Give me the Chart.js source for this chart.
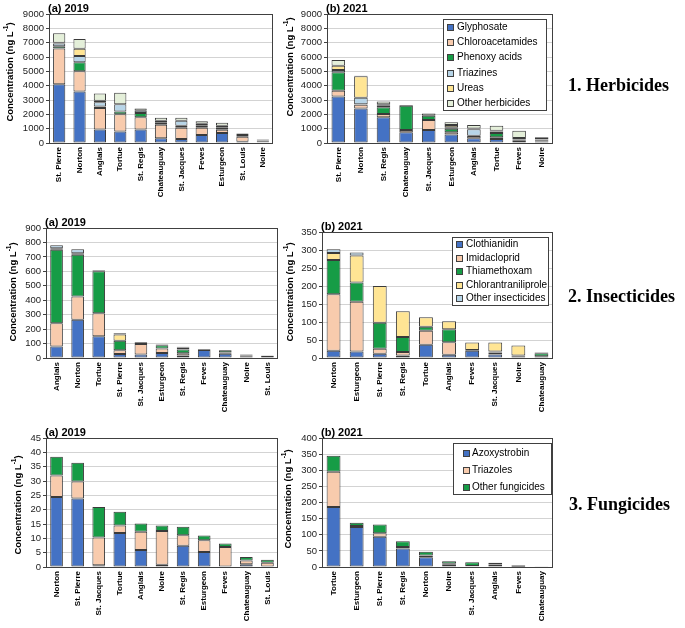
<!DOCTYPE html>
<html><head><meta charset="utf-8">
<script src="https://cdn.jsdelivr.net/npm/chart.js@4.4.1/dist/chart.umd.min.js"></script>
<style>
html,body{margin:0;padding:0;background:#fff;}
#wrap{position:relative;width:685px;height:628px;overflow:hidden;font-family:"Liberation Sans",Arial,sans-serif;}
canvas{position:absolute;left:0;top:0;}
.lg{position:absolute;border:1px solid #404040;background:#fff;box-sizing:border-box;font-size:10px;color:#000;}
.lg .it{position:absolute;white-space:nowrap;line-height:12px;}
.lg .mk{position:absolute;width:7px;height:7px;border:1px solid #404040;box-sizing:border-box;}
.sec{position:absolute;font-family:"Liberation Serif","Times New Roman",serif;font-weight:bold;font-size:18px;white-space:nowrap;line-height:20px;color:#000;}
</style></head>
<body>
<div id="wrap">
<canvas id="c1" width="685" height="628"></canvas>
<canvas id="c2" width="685" height="628"></canvas>
<canvas id="c3" width="685" height="628"></canvas>
<canvas id="c4" width="685" height="628"></canvas>
<canvas id="c5" width="685" height="628"></canvas>
<canvas id="c6" width="685" height="628"></canvas>
<div class="sec" style="left:568px;top:75px;">1. Herbicides</div>
<div class="sec" style="left:568px;top:286px;">2. Insecticides</div>
<div class="sec" style="left:569px;top:494px;">3. Fungicides</div>
</div>
<script>
// ---------- DATA ----------
const herbNames = ['Glyphosate','Chloroacetamides','Phenoxy acids','Triazines','Ureas','Other herbicides'];
const insNames = ['Clothianidin','Imidacloprid','Thiamethoxam','Chlorantraniliprole','Other insecticides'];
const fungNames = ['Azoxystrobin','Triazoles','Other fungicides'];

// Herbicides 2019
const herbCats19 = ['St. Pierre','Norton','Anglais','Tortue','St. Regis','Chateauguay','St. Jacques','Feves','Esturgeon','St. Louis','Noire'];
const glyphosate19 = [4100, 3600, 950, 800, 950, 330, 280, 560, 700, 90, 60];
const chloroacetamides19 = [2500, 1400, 1500, 1200, 850, 950, 790, 510, 230, 350, 60];
const phenoxy19 = [150, 630, 100, 200, 300, 140, 140, 140, 140, 120, 40];
const triazines19 = [200, 440, 300, 500, 150, 140, 350, 140, 140, 60, 20];
const ureas19 = [50, 510, 100, 0, 0, 0, 0, 0, 0, 0, 0];
const otherHerb19 = [650, 680, 500, 800, 150, 200, 210, 160, 210, 50, 60];

// Herbicides 2021
const herbCats21 = ['St. Pierre','Norton','St. Regis','Chateauguay','St. Jacques','Esturgeon','Anglais','Tortue','Feves','Noire'];
const glyphosate21 = [3250, 2400, 1800, 750, 900, 600, 330, 280, 150, 100];
const chloroacetamides21 = [400, 270, 220, 150, 700, 150, 150, 120, 100, 60];
const phenoxy21 = [1280, 30, 470, 1700, 300, 250, 30, 300, 100, 80];
const triazines21 = [160, 450, 110, 0, 0, 100, 450, 100, 0, 20];
const ureas21 = [300, 1500, 100, 0, 0, 150, 50, 50, 0, 0];
const otherHerb21 = [400, 50, 200, 50, 150, 200, 250, 350, 500, 140];

// Insecticides 2019
const insCats19 = ['Anglais','Norton','Tortue','St. Pierre','St. Jacques','Esturgeon','St. Regis','Feves','Chateauguay','Noire','St. Louis'];
const clothianidin19 = [80, 265, 150, 28, 25, 35, 18, 55, 30, 12, 15];
const imidacloprid19 = [160, 160, 160, 25, 72, 30, 15, 0, 8, 5, 0];
const thiamethoxam19 = [510, 290, 290, 67, 8, 23, 25, 5, 15, 8, 3];
const chlorantraniliprole19 = [10, 10, 5, 42, 0, 0, 15, 0, 3, 0, 0];
const otherIns19 = [20, 28, 5, 10, 5, 5, 5, 0, 0, 0, 0];

// Insecticides 2021
const insCats21 = ['Norton','Esturgeon','St. Pierre','St. Regis','Tortue','Anglais','Feves','St. Jacques','Noire','Chateauguay'];
const clothianidin21 = [20, 18, 12, 7, 37, 9, 20, 10, 5, 3];
const imidacloprid21 = [157, 138, 14, 10, 39, 35, 2, 5, 2, 2];
const thiamethoxam21 = [95, 54, 72, 41, 11, 36, 0, 3, 0, 8];
const chlorantraniliprole21 = [20, 75, 102, 72, 26, 22, 21, 25, 28, 2];
const otherIns21 = [10, 8, 0, 0, 0, 0, 0, 0, 0, 0];

// Fungicides 2019
const fungCats19 = ['Norton','St. Pierre','St. Jacques','Tortue','Anglais','Noire','St. Regis','Esturgeon','Feves','Chateauguay','St. Louis'];
const azoxystrobin19 = [24.4, 23.9, 0.6, 11.9, 5.9, 0.8, 7.4, 5.2, 0, 1.0, 0.2];
const triazoles19 = [7.5, 5.9, 9.7, 2.6, 6.4, 11.8, 3.7, 4.1, 7.0, 1.3, 1.3];
const otherFung19 = [6.6, 6.6, 10.6, 4.8, 2.9, 1.9, 2.9, 1.7, 1.2, 1.2, 1.0];

// Fungicides 2021
const fungCats21 = ['Tortue','Esturgeon','St. Pierre','St. Regis','Norton','Noire','St. Jacques','Anglais','Feves','Chateauguay'];
const azoxystrobin21 = [186, 124, 94, 57, 30, 7, 2, 8, 1, 0.5];
const triazoles21 = [109, 3, 11, 5, 6, 3, 1, 1, 4, 0.3];
const otherFung21 = [50, 10, 27, 18, 11, 8, 12, 4, 1, 0.2];

// ---------- STYLE ----------
const FF = '"Liberation Sans", Arial, sans-serif';
const COL = {blue:'#4472c4', peach:'#f8cbad', green:'#169c46', lblue:'#b7d5e8', yellow:'#ffe594', pale:'#e4efd9'};
const herbColors = [COL.blue, COL.peach, COL.green, COL.lblue, COL.yellow, COL.pale];
const insColors = [COL.blue, COL.peach, COL.green, COL.yellow, COL.lblue];
const fungColors = [COL.blue, COL.peach, COL.green];
const XH = 60;

function decoPlugin(title, ytx, yty) {
  return {
    id: 'deco',
    afterDraw(chart) {
      const a = chart.chartArea, ctx = chart.ctx;
      ctx.save();
      ctx.strokeStyle = '#404040';
      ctx.lineWidth = 1;
      const l = Math.round(a.left) + 0.5, t = Math.round(a.top) + 0.5;
      const w = Math.round(a.right) - Math.round(a.left) - 1, h = Math.round(a.bottom) - Math.round(a.top);
      ctx.strokeRect(l, t, w, h);
      ctx.fillStyle = '#000';
      ctx.font = 'bold 11px ' + FF;
      ctx.textAlign = 'left';
      ctx.textBaseline = 'alphabetic';
      ctx.fillText(title, a.left - 1, a.top - 2);
      ctx.translate(ytx, yty);
      ctx.rotate(-Math.PI / 2);
      const main = 'Concentration (ng L', sup = '-1', end = ')';
      const fMain = 'bold 9.5px ' + FF, fSup = 'bold 6.5px ' + FF;
      ctx.font = fMain; const w1 = ctx.measureText(main).width, w3 = ctx.measureText(end).width;
      ctx.font = fSup; const w2 = ctx.measureText(sup).width;
      let x = -(w1 + w2 + w3) / 2;
      ctx.textBaseline = 'middle';
      ctx.font = fMain; ctx.fillText(main, x, 0); x += w1;
      ctx.font = fSup; ctx.fillText(sup, x, -3.5); x += w2;
      ctx.font = fMain; ctx.fillText(end, x, 0);
      ctx.restore();
    }
  };
}

function makePanel(id, p) {
  const datasets = p.series.map((d, i) => ({
    label: p.names[i], data: d, backgroundColor: p.colors[i],
    borderColor: '#3a3a3a', borderWidth: 1, borderSkipped: false,
    barPercentage: 0.6, categoryPercentage: 1
  }));
  new Chart(document.getElementById(id), {
    type: 'bar',
    data: { labels: p.cats, datasets },
    options: {
      responsive: false, animation: false, events: [],
      layout: { padding: { left: 0, top: p.T, right: 685 - p.R, bottom: 628 - p.B - XH } },
      plugins: { legend: { display: false }, tooltip: { enabled: false }, title: { display: false } },
      scales: {
        x: {
          stacked: true,
          grid: { display: false, drawTicks: false },
          border: { display: false },
          ticks: { autoSkip: false, minRotation: 90, maxRotation: 90, padding: 4, color: '#000',
                   font: { family: FF, size: 8, weight: 'bold' } },
          afterFit: s => { s.height = XH; }
        },
        y: {
          stacked: true, min: 0, max: p.max,
          ticks: { stepSize: p.step, autoSkip: false, padding: 2, color: '#222',
                   font: { family: FF, size: 9.5 }, callback: v => String(v) },
          grid: { color: '#d3d3d3', tickColor: '#404040', tickLength: 3, drawTicks: true },
          border: { display: false },
          afterFit: s => { s.width = p.L; }
        }
      }
    },
    plugins: [decoPlugin(p.title, p.ytx, p.yty)]
  });
}

function makeLegend(names, colors, box) {
  const d = document.createElement('div');
  d.className = 'lg';
  d.style.left = box.x + 'px'; d.style.top = box.y + 'px';
  d.style.width = box.w + 'px'; d.style.height = box.h + 'px';
  names.forEach((n, i) => {
    const cy = box.first + i * box.step;
    const mk = document.createElement('div');
    mk.className = 'mk';
    mk.style.left = box.mx + 'px'; mk.style.top = (cy - 3.5) + 'px';
    mk.style.background = colors[i];
    const t = document.createElement('div');
    t.className = 'it';
    t.style.left = box.tx + 'px'; t.style.top = (cy - 6.5) + 'px';
    t.textContent = n;
    d.appendChild(mk); d.appendChild(t);
  });
  document.getElementById('wrap').appendChild(d);
}

makePanel('c1', { cats: herbCats19, names: herbNames, colors: herbColors,
  series: [glyphosate19, chloroacetamides19, phenoxy19, triazines19, ureas19, otherHerb19],
  L: 49, R: 273, T: 14, B: 143, max: 9000, step: 1000, title: '(a) 2019', ytx: 10, yty: 72 });
makePanel('c2', { cats: herbCats21, names: herbNames, colors: herbColors,
  series: [glyphosate21, chloroacetamides21, phenoxy21, triazines21, ureas21, otherHerb21],
  L: 327, R: 553, T: 14, B: 143, max: 9000, step: 1000, title: '(b) 2021', ytx: 290, yty: 67 });
makePanel('c3', { cats: insCats19, names: insNames, colors: insColors,
  series: [clothianidin19, imidacloprid19, thiamethoxam19, chlorantraniliprole19, otherIns19],
  L: 46, R: 278, T: 228, B: 358, max: 900, step: 100, title: '(a) 2019', ytx: 13, yty: 292 });
makePanel('c4', { cats: insCats21, names: insNames, colors: insColors,
  series: [clothianidin21, imidacloprid21, thiamethoxam21, chlorantraniliprole21, otherIns21],
  L: 322, R: 553, T: 232, B: 358, max: 350, step: 50, title: '(b) 2021', ytx: 290, yty: 292 });
makePanel('c5', { cats: fungCats19, names: fungNames, colors: fungColors,
  series: [azoxystrobin19, triazoles19, otherFung19],
  L: 46, R: 278, T: 438, B: 567, max: 45, step: 5, title: '(a) 2019', ytx: 18, yty: 505 });
makePanel('c6', { cats: fungCats21, names: fungNames, colors: fungColors,
  series: [azoxystrobin21, triazoles21, otherFung21],
  L: 322, R: 553, T: 438, B: 567, max: 400, step: 50, title: '(b) 2021', ytx: 288, yty: 499 });

makeLegend(herbNames, herbColors, { x: 443, y: 19, w: 104, h: 92, first: 7.5, step: 15.2, mx: 3, tx: 13 });
makeLegend(insNames, insColors, { x: 452, y: 237, w: 97, h: 69, first: 6.5, step: 13.5, mx: 3, tx: 13 });
makeLegend(fungNames, fungColors, { x: 453, y: 443, w: 99, h: 52, first: 9, step: 17, mx: 9, tx: 18 });
</script>
</body></html>
